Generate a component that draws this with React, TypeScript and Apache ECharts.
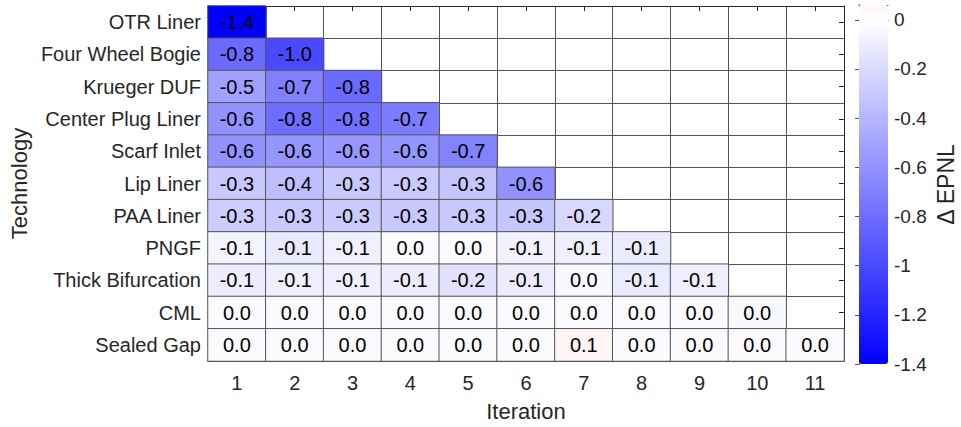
import React, { useEffect, useRef } from "react";
import * as echarts from "echarts";

const iterations = ["1", "2", "3", "4", "5", "6", "7", "8", "9", "10", "11"];
const technologies = [
  "OTR Liner",
  "Four Wheel Bogie",
  "Krueger DUF",
  "Center Plug Liner",
  "Scarf Inlet",
  "Lip Liner",
  "PAA Liner",
  "PNGF",
  "Thick Bifurcation",
  "CML",
  "Sealed Gap",
];

// Δ EPNL per technology, one value per iteration
const otrLiner = [-1.4];
const fourWheelBogie = [-0.82, -1.0];
const kruegerDUF = [-0.52, -0.7, -0.82];
const centerPlugLiner = [-0.6, -0.8, -0.78, -0.72];
const scarfInlet = [-0.6, -0.58, -0.57, -0.58, -0.68];
const lipLiner = [-0.3, -0.36, -0.3, -0.29, -0.32, -0.6];
const paaLiner = [-0.28, -0.3, -0.29, -0.3, -0.3, -0.32, -0.22];
const pngf = [-0.06, -0.12, -0.08, -0.03, -0.03, -0.07, -0.09, -0.11];
const thickBifurcation = [-0.1, -0.09, -0.09, -0.1, -0.16, -0.1, -0.04, -0.11, -0.09];
const cml = [-0.03, -0.02, -0.03, -0.02, -0.03, -0.03, -0.03, -0.03, -0.03, -0.04];
const sealedGap = [-0.02, -0.02, -0.02, -0.02, -0.02, -0.02, 0.06, -0.02, -0.02, -0.02, -0.02];

const rows = [
  otrLiner,
  fourWheelBogie,
  kruegerDUF,
  centerPlugLiner,
  scarfInlet,
  lipLiner,
  paaLiner,
  pngf,
  thickBifurcation,
  cml,
  sealedGap,
];

const colorMin = -1.4;
const colorMax = 0.06;
const colorbarTicks = [0, -0.2, -0.4, -0.6, -0.8, -1, -1.2, -1.4];

const FONT = "'Liberation Sans', Arial, Helvetica, sans-serif";
const TEXT = "#262626";

function colorAt(v: number): string {
  if (v <= 0) {
    const t = Math.min(1, v / -1.4);
    const c = Math.round(255 * (1 - t));
    return `rgb(${c},${c},255)`;
  }
  const t = Math.min(1, v / 1.4);
  const c = Math.round(255 * (1 - t));
  return `rgb(255,${c},${c})`;
}

function buildStops(): string[] {
  const n = 147;
  const out: string[] = [];
  for (let i = 0; i < n; i++) {
    const v = colorMin + ((colorMax - colorMin) * i) / (n - 1);
    out.push(colorAt(v));
  }
  return out;
}

function fmt(v: number): string {
  const s = v.toFixed(1);
  return s === "-0.0" ? "0.0" : s;
}

export default function App() {
  const ref = useRef<HTMLDivElement>(null);

  useEffect(() => {
    document.body.style.margin = "0";
    if (!ref.current) return;
    const chart = echarts.init(ref.current, null, { renderer: "svg" });

    const data: [number, number, number][] = [];
    rows.forEach((vals, r) => {
      vals.forEach((v, c) => data.push([c, r, v]));
    });

    const grid = { left: 207, top: 6, width: 637, height: 359 };
    const cb = { left: 859, top: 5, width: 29, height: 359 };

    chart.setOption({
      animation: false,
      textStyle: { fontFamily: FONT },
      grid: [
        { ...grid, containLabel: false },
        { ...cb, containLabel: false },
      ],
      xAxis: [
        {
          type: "category",
          data: iterations,
          gridIndex: 0,
          position: "bottom",
          axisLine: { show: true, lineStyle: { color: TEXT, width: 1 } },
          axisTick: { show: false },
          axisLabel: { interval: 0, fontSize: 20, color: TEXT, margin: 12, fontFamily: FONT },
          splitLine: { show: true, interval: 0, lineStyle: { color: "#555", width: 1 } },
          name: "Iteration",
          nameLocation: "middle",
          nameGap: 39,
          nameTextStyle: { fontSize: 22, color: TEXT, fontFamily: FONT },
        },
        {
          type: "category",
          data: iterations,
          gridIndex: 0,
          position: "top",
          axisLine: { show: true, lineStyle: { color: TEXT, width: 1 } },
          axisTick: { show: true, inside: true, alignWithLabel: true, interval: 0, length: 5, lineStyle: { color: TEXT } },
          axisLabel: { show: false },
          splitLine: { show: false },
        },
        {
          type: "value",
          gridIndex: 1,
          min: 0,
          max: 1,
          axisLine: { show: true, lineStyle: { color: "#555" } },
          axisTick: { show: false },
          axisLabel: { show: false },
          splitLine: { show: false },
        },
        {
          type: "value",
          gridIndex: 1,
          position: "top",
          min: 0,
          max: 1,
          axisLine: { show: true, onZero: false, lineStyle: { color: "#555" } },
          axisTick: { show: false },
          axisLabel: { show: false },
          splitLine: { show: false },
        },
      ],
      yAxis: [
        {
          type: "category",
          data: technologies,
          inverse: true,
          gridIndex: 0,
          position: "left",
          axisLine: { show: true, lineStyle: { color: TEXT, width: 1 } },
          axisTick: { show: false },
          axisLabel: { interval: 0, fontSize: 20, color: TEXT, margin: 7, fontFamily: FONT },
          splitLine: { show: true, interval: 0, lineStyle: { color: "#555", width: 1 } },
          name: "Technology",
          nameLocation: "middle",
          nameRotate: 90,
          nameGap: 175,
          nameTextStyle: { fontSize: 22, color: TEXT, fontFamily: FONT },
        },
        {
          type: "category",
          data: technologies,
          inverse: true,
          gridIndex: 0,
          position: "right",
          axisLine: { show: true, lineStyle: { color: TEXT, width: 1 } },
          axisTick: { show: true, inside: true, alignWithLabel: true, interval: 0, length: 5, lineStyle: { color: TEXT } },
          axisLabel: { show: false },
          splitLine: { show: false },
        },
        {
          type: "value",
          gridIndex: 1,
          position: "right",
          min: colorMin,
          max: colorMax,
          interval: 0.2,
          axisLine: { show: true, lineStyle: { color: "#555" } },
          axisTick: { show: true, inside: true, length: 4, lineStyle: { color: "#555" } },
          axisLabel: {
            fontSize: 19,
            color: TEXT,
            margin: 6,
            fontFamily: FONT,
            showMaxLabel: false,
            formatter: (v: number) => {
              const hit = colorbarTicks.find((t) => Math.abs(t - v) < 1e-6);
              return hit === undefined ? "" : String(hit);
            },
          },
          splitLine: { show: false },
          name: "Δ EPNL",
          nameLocation: "middle",
          nameRotate: 90,
          nameGap: 46,
          nameTextStyle: { fontSize: 23, color: TEXT, fontFamily: FONT },
        },
        {
          type: "value",
          gridIndex: 1,
          position: "left",
          min: colorMin,
          max: colorMax,
          axisLine: { show: true, lineStyle: { color: "#555" } },
          axisTick: { show: false },
          axisLabel: { show: false },
          splitLine: { show: false },
        },
      ],
      visualMap: {
        type: "continuous",
        seriesIndex: 0,
        min: colorMin,
        max: colorMax,
        calculable: false,
        orient: "vertical",
        left: cb.left,
        top: cb.top,
        padding: 0,
        itemWidth: cb.width,
        itemHeight: cb.height,
        text: null,
        showLabel: false,
        inRange: { color: buildStops() },
        hoverLink: false,
        z: 1,
      },
      series: [
        {
          type: "heatmap",
          xAxisIndex: 0,
          yAxisIndex: 0,
          data,
          itemStyle: { borderColor: "#555", borderWidth: 1 },
          label: {
            show: true,
            fontSize: 20,
            color: "#000",
            fontFamily: FONT,
            formatter: (p: any) => fmt(p.value[2]),
          },
          emphasis: { disabled: true },
        },
        {
          type: "scatter",
          xAxisIndex: 2,
          yAxisIndex: 2,
          data: [],
        },
      ],
    });

    return () => chart.dispose();
  }, []);

  return <div ref={ref} style={{ width: 961, height: 427 }} />;
}
